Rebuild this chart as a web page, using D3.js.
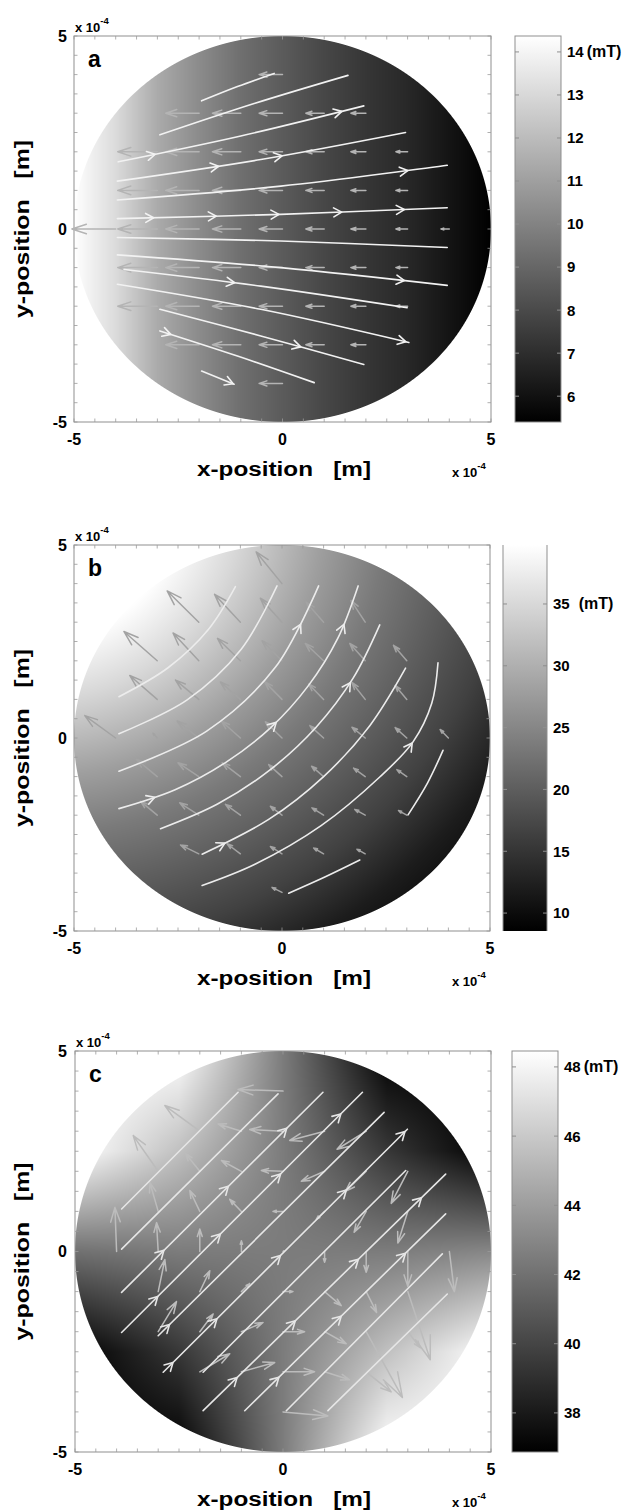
<!DOCTYPE html>
<html><head><meta charset="utf-8">
<script src="https://cdn.jsdelivr.net/npm/d3@7"></script>
<style>body{margin:0;background:#fff}svg{display:block}</style>
</head><body>
<svg id="chart" width="627" height="1511"></svg>
<script>
// ---------------- DATA ----------------
const axisTickValues = [-5, 0, 5];
const axisTickLabels = ["-5", "0", "5"];
const panelLabels = ["a", "b", "c"];

const cbRangeA = [5.4, 14.37];
const cbTicksA = [6, 7, 8, 9, 10, 11, 12, 13, 14];
const cbRangeB = [8.55, 39.77];
const cbTicksB = [10, 15, 20, 25, 30, 35];
const cbRangeC = [36.87, 48.46];
const cbTicksC = [38, 40, 42, 44, 46, 48];
const cbUnitTick = ["14", "35", "48"];

// field A: B (mT) versus x
const fieldAx = [-5, -4, -3, -2, -1, 0, 1, 2, 3, 4, 5];
const fieldAB = [14.37, 13.1, 11.4, 10.3, 9.3, 8.6, 7.9, 7.3, 6.8, 6.1, 5.4];
// field B: B (mT) versus distance from a source point at upper left
const fieldBsrc = [-6, 6];
const fieldBr = [0, 3.5, 5, 7, 8.5, 10, 11.5, 13, 14.5];
const fieldBB = [39.77, 39.7, 35, 28, 23.5, 20, 16.5, 12, 9];
// field C: B (mT) on a coarse grid (rows y = 5..-5, cols x = -5..5)
const fieldCgrid = [-5, -2.5, 0, 2.5, 5];
const fieldC = [
  [48.4, 48.4, 42.5, 36.9, 36.9],
  [48.4, 45.6, 42.5, 39.4, 36.9],
  [42.0, 42.5, 42.5, 42.5, 43.0],
  [36.9, 39.4, 42.5, 45.6, 48.4],
  [36.9, 36.9, 42.5, 48.4, 48.4]
];

// streamlines (x, y in units of 1e-4 m)
const streamA = [
  [[-1.94,3.32],[-1.08,3.69],[-0.20,4.03]],
  [[-2.94,2.44],[-0.68,3.25],[1.57,3.98]],
  [[-3.94,1.74],[-1.0,2.41],[1.95,3.19]],
  [[-3.96,1.24],[-0.52,1.80],[2.95,2.50]],
  [[-3.96,0.75],[-0.04,1.11],[3.95,1.65]],
  [[-3.96,0.27],[-0.04,0.38],[3.95,0.55]],
  [[-3.96,-0.22],[-0.04,-0.31],[3.95,-0.48]],
  [[-3.96,-0.67],[-0.04,-1.0],[3.95,-1.46]],
  [[-3.80,-1.05],[-0.52,-1.48],[2.99,-2.04]],
  [[-3.96,-1.43],[-0.52,-2.08],[3.03,-2.94]],
  [[-2.94,-2.08],[-0.52,-2.77],[1.95,-3.51]],
  [[-2.94,-2.64],[-1.08,-3.29],[0.76,-3.98]],
  [[-1.94,-3.68],[-1.16,-4.02]]
];
const streamArrowsA = [[2,0.15],[2,0.91],[3,0.35],[3,0.57],[4,0.88],[5,0.11],[5,0.30],[5,0.49],[5,0.68],[5,0.87],[7,0.87],[8,0.39],[9,0.99],[10,0.69],[11,0.07],[12,0.97]];

const streamB = [
  [[-3.92,1.07],[-2.74,1.82],[-1.77,2.81],[-1.12,3.92]],
  [[-3.92,0.11],[-2.28,0.99],[-0.98,2.30],[-0.12,3.94]],
  [[-3.92,-0.86],[-1.81,0.18],[-0.16,1.83],[0.88,3.94]],
  [[-3.92,-1.83],[-2.57,-1.34],[-1.35,-0.63],[-0.27,0.27],[0.63,1.35],[1.34,2.58],[1.83,3.94]],
  [[-2.92,-2.35],[-1.55,-1.71],[-0.28,-0.82],[0.82,0.28],[1.71,1.55],[2.35,2.93]],
  [[-1.92,-3.01],[-0.32,-2.11],[1.0,-1.0],[2.11,0.32],[2.97,1.81]],
  [[-1.92,-3.82],[-0.65,-3.27],[0.94,-2.27],[2.35,-1.01],[3.15,-0.1],[3.6,0.9],[3.75,1.95]],
  [[0.16,-4.02],[1.03,-3.6],[1.87,-3.16]],
  [[3.03,-1.99],[3.5,-1.16],[3.87,-0.32]]
];
const streamArrowsB = [[2,0.85],[3,0.11],[3,0.53],[3,0.88],[4,0.79],[5,0.09],[6,0.75]];

const streamC = [
  [[-3.88,1.06],[-1.08,3.97]],
  [[-3.88,0.06],[-0.12,3.93]],
  [[-3.88,-1.02],[0.96,3.97]],
  [[-3.88,-2.02],[1.91,3.97]],
  [[-3.0,-2.10],[2.43,3.47]],
  [[-2.88,-3.01],[2.99,3.05]],
  [[-1.92,-3.01],[2.95,2.02]],
  [[-1.92,-3.97],[3.91,1.93]],
  [[-0.92,-3.97],[3.91,0.94]],
  [[0.08,-3.97],[3.83,-0.06]],
  [[1.08,-3.97],[3.95,-1.06]]
];
const streamArrowsC = [[2,0.21],[2,0.53],[2,0.82],[3,0.15],[3,0.41],[3,0.66],[3,0.91],[4,0.05],[5,0.04],[5,0.22],[5,0.48],[5,0.75],[5,0.99],[7,0.14],[7,0.38],[7,0.64],[7,0.90],[8,0.17],[8,0.48],[8,0.80]];

// quiver arrows [x, y, u, v]
const quiverA = [
  [0,4,-0.56,0],
  [-2,3,-0.8,0],[-1,3,-0.68,0],[0,3,-0.56,0],[1,3,-0.44,0],[2,3,-0.36,0],
  [-3,2,-0.95,0],[-2,2,-0.8,0],[-1,2,-0.68,0],[0,2,-0.56,0],[1,2,-0.44,0],[2,2,-0.36,0],[3,2,-0.28,0],
  [-3,1,-0.95,0],[-2,1,-0.8,0],[-1,1,-0.68,0],[0,1,-0.56,0],[1,1,-0.44,0],[2,1,-0.36,0],[3,1,-0.28,0],
  [-4,0,-1.05,0],[-3,0,-0.95,0],[-2,0,-0.8,0],[-1,0,-0.68,0],[0,0,-0.56,0],[1,0,-0.44,0],[2,0,-0.36,0],[3,0,-0.28,0],[4,0,-0.2,0],
  [-3,-1,-0.95,0],[-2,-1,-0.8,0],[-1,-1,-0.68,0],[0,-1,-0.56,0],[1,-1,-0.44,0],[2,-1,-0.36,0],[3,-1,-0.28,0],
  [-3,-2,-0.95,0],[-2,-2,-0.8,0],[-1,-2,-0.68,0],[0,-2,-0.56,0],[1,-2,-0.44,0],[2,-2,-0.36,0],[3,-2,-0.28,0],
  [-2,-3,-0.8,0],[-1,-3,-0.68,0],[0,-3,-0.56,0],[1,-3,-0.44,0],[2,-3,-0.36,0],
  [0,-4,-0.56,0]
];
const quiverB = [
  [0,4,-0.62,0.82],
  [-2,3,-0.76,0.81],[-1,3,-0.62,0.72],[0,3,-0.52,0.62],[1,3,-0.42,0.52],[2,3,-0.34,0.56],
  [-3,2,-0.8,0.76],[-2,2,-0.62,0.72],[-1,2,-0.55,0.58],[0,2,-0.48,0.52],[1,2,-0.44,0.45],[2,2,-0.37,0.45],[3,2,-0.32,0.4],
  [-3,1,-0.66,0.62],[-2,1,-0.56,0.5],[-1,1,-0.48,0.45],[0,1,-0.42,0.46],[1,1,-0.36,0.4],[2,1,-0.32,0.44],[3,1,-0.28,0.36],
  [-4,0,-0.74,0.58],[-3,0,-0.1,0.12],[-2,0,-0.52,0.44],[-1,0,-0.46,0.44],[0,0,-0.4,0.42],[1,0,-0.33,0.32],[2,0,-0.32,0.28],[3,0,-0.28,0.27],[4,0,-0.2,0.22],
  [-3,-1,-0.5,0.45],[-2,-1,-0.5,0.36],[-1,-1,-0.44,0.36],[0,-1,-0.32,0.31],[1,-1,-0.29,0.27],[2,-1,-0.28,0.22],[3,-1,-0.24,0.18],
  [-3,-2,-0.4,0.36],[-2,-2,-0.46,0.32],[-1,-2,-0.36,0.28],[0,-2,-0.28,0.23],[1,-2,-0.28,0.19],[2,-2,-0.25,0.15],[3,-2,-0.2,0.12],
  [-2,-3,-0.44,0.23],[-1,-3,-0.32,0.26],[0,-3,-0.28,0.19],[1,-3,-0.24,0.15],[2,-3,-0.2,0.12],
  [0,-4,-0.24,0.13]
];
const quiverC = [
  [0,4,-1.08,0.04],
  [-2,3,-0.84,0.64],[-1,3,-0.56,0.18],[0,3,-0.8,0.04],[1,3,-0.84,-0.23],[2,3,-0.7,-0.45],
  [-3,2,-0.6,0.89],[-2,2,-0.35,0.45],[-1,2,-0.48,0.27],[0,2,-0.52,0.02],[1,2,-0.56,-0.25],[2,2,-0.5,-0.5],[3,2,-0.4,-0.8],
  [-3,1,-0.2,0.72],[-2,1,-0.24,0.52],[-1,1,-0.28,0.3],[0,1,-0.24,0.0],[1,1,-0.2,-0.2],[2,1,-0.29,-0.52],[3,1,-0.24,-0.79],
  [-4,0,-0.04,1.1],[-3,0,-0.04,0.72],[-2,0,0,0.56],[-1,0,0,0.27],[0,0,0.02,0.02],[1,0,0,-0.27],[2,0,0,-0.52],[3,0,0,-0.87],[4,0,0.12,-1.0],
  [-3,-1,0.16,0.8],[-2,-1,0.24,0.52],[-1,-1,0.2,0.2],[0,-1,0.24,0],[1,-1,0.4,-0.35],[2,-1,0.25,-0.52],[3,-1,0.54,-1.7],
  [-3,-2,0.44,0.75],[-2,-2,0.32,0.44],[-1,-2,0.52,0.23],[0,-2,0.52,0],[1,-2,0.52,-0.3],[2,-2,0.87,-1.64],[3,-2,0.3,-0.4],
  [-2,-3,0.72,0.45],[-1,-3,0.8,0.23],[0,-3,0.76,0],[1,-3,0.6,-0.2],[2,-3,0.6,-0.5],
  [0,-4,1.08,-0.1]
];

// ---------------- DRAWING ----------------
const FONT = "'Liberation Sans', Arial, Helvetica, sans-serif";
const svg = d3.select('#chart');

const fA = d3.scaleLinear().domain(fieldAx).range(fieldAB).clamp(true);
const fB = d3.scaleLinear().domain(fieldBr).range(fieldBB).clamp(true);
const cIdx = d3.scaleLinear().domain([-5, 5]).range([0, fieldCgrid.length - 1]).clamp(true);
function fieldCfn(x, y) {
  const fx = cIdx(x), fy = cIdx(-y);
  const i = Math.min(Math.floor(fx), fieldCgrid.length - 2), j = Math.min(Math.floor(fy), fieldCgrid.length - 2);
  const tx = fx - i, ty = fy - j;
  const a = fieldC[j][i], b = fieldC[j][i+1], c = fieldC[j+1][i], d = fieldC[j+1][i+1];
  return (a*(1-tx) + b*tx)*(1-ty) + (c*(1-tx) + d*tx)*ty;
}

const panels = [
  {label: panelLabels[0], box: {x0:74, x1:491, y0:36, y1:422}, cb: {x0:515, x1:561, full:true},
   cbRange: cbRangeA, cbTicks: cbTicksA, unit: cbUnitTick[0], unitGap: 3,
   field: (x, y) => fA(x), stream: streamA, sArrows: streamArrowsA, quiver: quiverA,
   sColor: '#f2f2f2', qColor: '#b4b4b4'},
  {label: panelLabels[1], box: {x0:74, x1:490, y0:545, y1:931}, cb: {x0:503, x1:547, full:false},
   cbRange: cbRangeB, cbTicks: cbTicksB, unit: cbUnitTick[1], unitGap: 9,
   field: (x, y) => fB(Math.hypot(x - fieldBsrc[0], y - fieldBsrc[1])), stream: streamB, sArrows: streamArrowsB, quiver: quiverB,
   sColor: '#ececec', qColor: '#a3a3a3'},
  {label: panelLabels[2], box: {x0:75, x1:491, y0:1051, y1:1452}, cb: {x0:512, x1:558, full:true},
   cbRange: cbRangeC, cbTicks: cbTicksC, unit: cbUnitTick[2], unitGap: 3,
   field: fieldCfn, stream: streamC, sArrows: streamArrowsC, quiver: quiverC,
   sColor: '#e6e6e6', qColor: '#bcbcbc'}
];

const defs = svg.append('defs');
const grad = defs.append('linearGradient').attr('id', 'gray').attr('x1', 0).attr('y1', 1).attr('x2', 0).attr('y2', 0);
grad.append('stop').attr('offset', 0).attr('stop-color', '#000');
grad.append('stop').attr('offset', 1).attr('stop-color', '#fff');

panels.forEach(cfg => {
  const B = cfg.box;
  const x = d3.scaleLinear().domain([-5, 5]).range([B.x0, B.x1]);
  const y = d3.scaleLinear().domain([-5, 5]).range([B.y1, B.y0]);
  const gray = d3.scaleLinear().domain(cfg.cbRange).range([0, 255]).clamp(true);
  const g = svg.append('g');

  // heat map disk
  const w = Math.round(B.x1 - B.x0), h = Math.round(B.y1 - B.y0);
  const canvas = document.createElement('canvas');
  canvas.width = w; canvas.height = h;
  const ctx = canvas.getContext('2d');
  const img = ctx.createImageData(w, h);
  const px = 10 / w;
  for (let j = 0; j < h; j++) {
    const dy = y.invert(B.y0 + j + 0.5);
    for (let i = 0; i < w; i++) {
      const dx = x.invert(B.x0 + i + 0.5);
      const r = Math.hypot(dx, dy);
      const a = Math.max(0, Math.min(1, (5 - r) / px + 0.5));
      if (a <= 0) continue;
      const v = Math.round(gray(cfg.field(dx, dy)));
      const k = (j * w + i) * 4;
      img.data[k] = v; img.data[k+1] = v; img.data[k+2] = v; img.data[k+3] = Math.round(a * 255);
    }
  }
  ctx.putImageData(img, 0, 0);
  g.append('image').attr('x', B.x0).attr('y', B.y0).attr('width', w).attr('height', h)
    .attr('href', canvas.toDataURL());

  // frame and ticks
  g.append('rect').attr('x', B.x0).attr('y', B.y0).attr('width', B.x1 - B.x0).attr('height', B.y1 - B.y0)
    .attr('fill', 'none').attr('stroke', '#8f8f8f').attr('stroke-width', 1);
  const tv = d3.range(-5, 5.001, 0.5);
  const tk = g.append('g').attr('stroke', '#9a9a9a').attr('stroke-width', 0.8);
  tv.forEach(v => {
    tk.append('line').attr('x1', x(v)).attr('x2', x(v)).attr('y1', B.y1).attr('y2', B.y1 - 3.5);
    tk.append('line').attr('x1', x(v)).attr('x2', x(v)).attr('y1', B.y0).attr('y2', B.y0 + 3.5);
    tk.append('line').attr('y1', y(v)).attr('y2', y(v)).attr('x1', B.x0).attr('x2', B.x0 + 3.5);
    tk.append('line').attr('y1', y(v)).attr('y2', y(v)).attr('x1', B.x1).attr('x2', B.x1 - 3.5);
  });

  // quiver
  const qg = g.append('g').attr('stroke', cfg.qColor).attr('stroke-width', 1.5).attr('fill', 'none')
    .attr('stroke-linecap', 'round').attr('stroke-linejoin', 'round');
  cfg.quiver.forEach(([qx, qy, u, v]) => {
    const x1 = x(qx), y1 = y(qy), x2 = x(qx + u), y2 = y(qy + v);
    const du = x2 - x1, dv = y2 - y1, al = 0.33, be = 0.33;
    const h1x = x2 - al * (du + be * dv), h1y = y2 - al * (dv - be * du);
    const h2x = x2 - al * (du - be * dv), h2y = y2 - al * (dv + be * du);
    qg.append('path').attr('d', `M${x1},${y1}L${x2},${y2}M${h1x},${h1y}L${x2},${y2}L${h2x},${h2y}`);
  });

  // streamlines
  const line = d3.line().x(d => x(d[0])).y(d => y(d[1])).curve(d3.curveCatmullRom.alpha(0.5));
  const sg = g.append('g').attr('stroke', cfg.sColor).attr('stroke-width', 1.6).attr('fill', 'none')
    .attr('stroke-linecap', 'round').attr('stroke-linejoin', 'round');
  const paths = cfg.stream.map(s => sg.append('path').attr('d', line(s)).node());
  cfg.sArrows.forEach(([li, t]) => {
    const p = paths[li], L = p.getTotalLength();
    const at = Math.max(0, Math.min(L, t * L));
    const P = p.getPointAtLength(at);
    const A = p.getPointAtLength(Math.max(0, at - 2)), C = p.getPointAtLength(Math.min(L, at + 2));
    let dx = C.x - A.x, dy = C.y - A.y; const n = Math.hypot(dx, dy) || 1; dx /= n; dy /= n;
    const s = 8, wd = 4.5;
    sg.append('path').attr('d',
      `M${P.x - s*dx - wd*dy},${P.y - s*dy + wd*dx}L${P.x},${P.y}L${P.x - s*dx + wd*dy},${P.y - s*dy - wd*dx}`);
  });

  // axis tick labels
  axisTickValues.forEach((v, i) => {
    g.append('text').attr('x', 67).attr('y', y(v)).attr('dy', '0.36em').attr('text-anchor', 'end')
      .attr('font-family', FONT).attr('font-weight', 'bold').attr('font-size', 16).text(axisTickLabels[i]);
    g.append('text').attr('x', x(v)).attr('y', B.y1 + 23).attr('text-anchor', 'middle')
      .attr('font-family', FONT).attr('font-weight', 'bold').attr('font-size', 16).text(axisTickLabels[i]);
  });
  // axis titles
  g.append('text').attr('x', 284).attr('y', B.y1 + 54).attr('text-anchor', 'middle')
    .attr('font-family', FONT).attr('font-weight', 'bold').attr('font-size', 20)
    .attr('textLength', 174).attr('lengthAdjust', 'spacingAndGlyphs').style('white-space', 'pre')
    .text('x-position   [m]');
  const cy = (B.y0 + B.y1) / 2;
  g.append('text').attr('transform', `translate(29,${cy}) rotate(-90)`).attr('text-anchor', 'middle')
    .attr('font-family', FONT).attr('font-weight', 'bold').attr('font-size', 20)
    .attr('textLength', 178).attr('lengthAdjust', 'spacingAndGlyphs').style('white-space', 'pre')
    .text('y-position   [m]');
  // exponent labels
  const expo = (ex, ey) => {
    const t = g.append('text').attr('x', ex).attr('y', ey).attr('font-family', FONT)
      .attr('font-weight', 'bold').attr('font-size', 13);
    t.append('tspan').text('x 10');
    t.append('tspan').attr('dy', -8).attr('font-size', 9.5).text('-4');
  };
  expo(B.x0 + 1, B.y0 - 4);
  expo(452, B.y1 + 55);
  // panel label
  g.append('text').attr('x', B.x0 + 14).attr('y', B.y0 + 31).attr('font-family', FONT)
    .attr('font-weight', 'bold').attr('font-size', 23).text(cfg.label);

  // colorbar
  const cy0 = B.y0, cy1 = B.y1;
  const cs = d3.scaleLinear().domain(cfg.cbRange).range([cy1, cy0]);
  g.append('rect').attr('x', cfg.cb.x0).attr('y', cy0).attr('width', cfg.cb.x1 - cfg.cb.x0).attr('height', cy1 - cy0)
    .attr('fill', 'url(#gray)');
  if (cfg.cb.full) {
    g.append('rect').attr('x', cfg.cb.x0).attr('y', cy0).attr('width', cfg.cb.x1 - cfg.cb.x0).attr('height', cy1 - cy0)
      .attr('fill', 'none').attr('stroke', '#8f8f8f').attr('stroke-width', 1);
  } else {
    g.append('line').attr('x1', cfg.cb.x0).attr('x2', cfg.cb.x0).attr('y1', cy0).attr('y2', cy1).attr('stroke', '#8f8f8f');
    g.append('line').attr('x1', cfg.cb.x1).attr('x2', cfg.cb.x1).attr('y1', cy0).attr('y2', cy1).attr('stroke', '#8f8f8f');
  }
  cfg.cbTicks.forEach(v => {
    g.append('line').attr('x1', cfg.cb.x0).attr('x2', cfg.cb.x0 + 4).attr('y1', cs(v)).attr('y2', cs(v)).attr('stroke', '#8f8f8f');
    g.append('line').attr('x1', cfg.cb.x1).attr('x2', cfg.cb.x1 - 4).attr('y1', cs(v)).attr('y2', cs(v)).attr('stroke', '#8f8f8f');
    const t = g.append('text').attr('x', cfg.cb.x1 + 6).attr('y', cs(v)).attr('dy', '0.36em')
      .attr('font-family', FONT).attr('font-weight', 'bold').attr('font-size', 15).text(String(v));
    if (String(v) === cfg.unit) {
      t.append('tspan').attr('dx', cfg.unitGap).attr('font-size', 16).text('(mT)');
    }
  });
});
</script>
</body></html>
